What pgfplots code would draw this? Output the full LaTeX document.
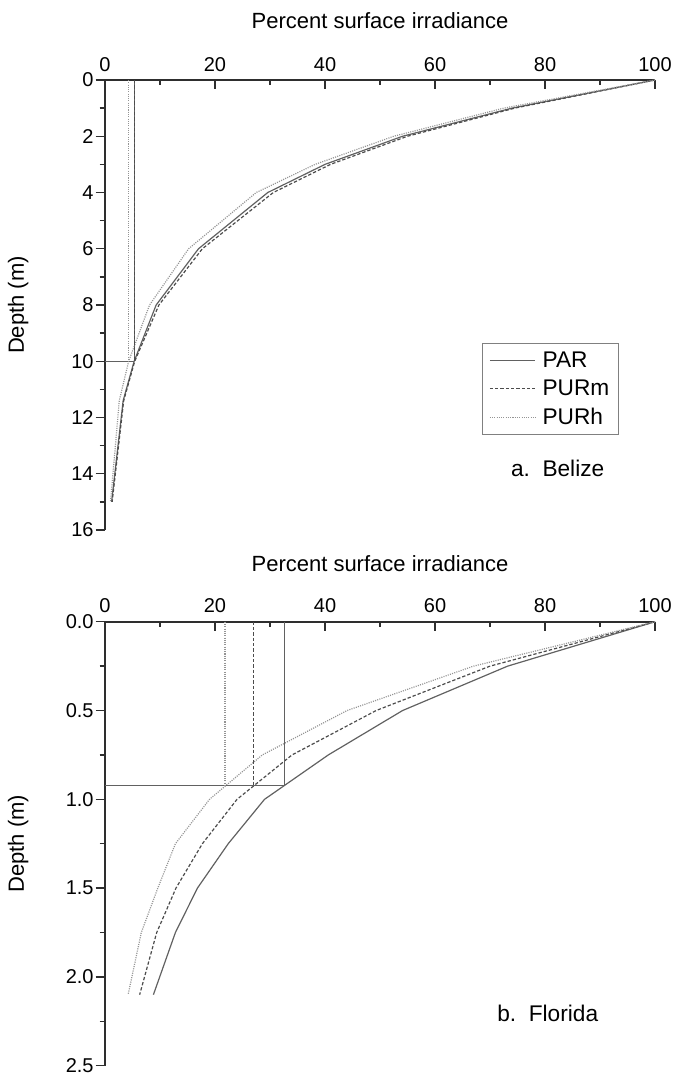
\documentclass[border=0pt]{standalone}
\usepackage{fontspec}
\setmainfont{Liberation Sans}
\usepackage{pgfplots}
\pgfplotsset{compat=1.18}

\definecolor{parcol}{gray}{0.38}
\definecolor{purmcol}{gray}{0.30}
\definecolor{purhcol}{gray}{0.58}
\definecolor{axcol}{gray}{0.18}
\definecolor{refcol}{gray}{0.38}

\pgfplotsset{
  myaxis/.style={
    scale only axis, width=412.5pt,
    xmin=0, xmax=100, y dir=reverse,
    axis x line=top, axis y line=left,
    axis line style={-, line width=1.4pt, axcol},
    xtick={0,20,...,100}, minor x tick num=1, minor y tick num=1,
    xtick align=inside, ytick align=outside,
    major tick length=7pt, minor tick length=4pt,
    tick style={axcol, line width=1.1pt},
    tick label style={font=\fontsize{15}{18}\selectfont},
    /pgf/number format/assume math mode=true,
    xticklabel style={yshift=3pt},
    yticklabel style={xshift=2pt},
    xlabel={Percent surface irradiance},
    ylabel={Depth (m)},
    label style={font=\fontsize{16.5}{20}\selectfont},
    xlabel style={at={(axis description cs:0.5,1.133)}, anchor=center},
    ylabel style={anchor=center},
    clip=false,
  },
  par/.style={parcol, line width=0.9pt},
  purm/.style={purmcol, line width=0.9pt, dash pattern=on 2.5pt off 1.5pt},
  purh/.style={purhcol, line width=0.9pt, dash pattern=on 0.8pt off 0.9pt},
  ref/.style={refcol, line width=0.7pt},
}

\begin{document}
\begin{tikzpicture}
\path[use as bounding box] (0,0) rectangle (507.75pt,-807.75pt);

% ---------- a. Belize ----------
\begin{axis}[myaxis, height=337.5pt,
  at={(78.75pt,-60pt)}, anchor=north west,
  ymin=0, ymax=16, ytick={0,2,...,16},
  ylabel style={at={(axis description cs:-0.158,0.5)}},
  legend style={at={(0.935,0.416)}, anchor=north east, draw=gray, line width=0.9pt,
    font=\fontsize{17}{20}\selectfont, row sep=4pt, inner xsep=5pt, inner ysep=4pt,
    cells={anchor=west},
    /tikz/every odd column/.append style={column sep=3pt}},
  legend image code/.code={\draw[#1] (0cm,0cm) -- (1.2cm,0cm);},
]
\addplot[par] coordinates {(100,0)(74,1)(54.1,2)(40,3)(29.6,4)(17,6)(9.3,8)(5.3,10)(3.3,11.4)(1.2,15)};
\addlegendentry{PAR}
\addplot[purm] coordinates {(100,0)(74.5,1)(55,2)(41,3)(30.6,4)(17.7,6)(9.8,8)(5.4,10)(3.4,11.4)(1.3,15)};
\addlegendentry{PURm}
\addplot[purh] coordinates {(100,0)(72.5,1)(52.5,2)(38.2,3)(27.5,4)(15.2,6)(8.1,8)(4.3,10)(2.6,11.4)(1.0,15)};
\addlegendentry{PURh}
\addplot[ref, forget plot] coordinates {(5.3,0)(5.3,10)};
\addplot[ref, forget plot] coordinates {(0,10)(5.3,10)};
\addplot[purm, forget plot] coordinates {(5.4,0)(5.4,10)};
\addplot[purh, forget plot] coordinates {(4.3,0)(4.3,10)};
\node[font=\fontsize{17}{20}\selectfont] at (axis description cs:0.823,0.138) {a.\ \ Belize};
\end{axis}

% ---------- b. Florida ----------
\begin{axis}[myaxis, height=333pt,
  at={(78.75pt,-466.3pt)}, anchor=north west,
  ymin=0, ymax=2.5, ytick={0,0.5,...,2.5},
  xlabel style={at={(axis description cs:0.5,1.13)}},
  ylabel style={at={(axis description cs:-0.158,0.5)}},
  yticklabel style={/pgf/number format/.cd, fixed, fixed zerofill, precision=1},
]
\addplot[par] coordinates {(100,0)(73.2,0.25)(54.1,0.5)(40.6,0.75)(29,1.0)(22.4,1.25)(16.8,1.5)(12.8,1.75)(8.8,2.1)};
\addplot[purm] coordinates {(100,0)(70,0.25)(49.3,0.5)(34,0.75)(24,1.0)(17.7,1.25)(12.9,1.5)(9.4,1.75)(6.3,2.1)};
\addplot[purh] coordinates {(100,0)(67,0.25)(44,0.5)(28.6,0.75)(19,1.0)(12.8,1.25)(9.6,1.5)(6.6,1.75)(4.2,2.1)};
\addplot[ref] coordinates {(32.6,0)(32.6,0.92)};
\addplot[ref] coordinates {(0,0.92)(32.6,0.92)};
\addplot[purm] coordinates {(27,0)(27,0.92)};
\addplot[purh] coordinates {(21.8,0)(21.8,0.92)};
\node[font=\fontsize{17}{20}\selectfont] at (axis description cs:0.805,0.119) {b.\ \ Florida};
\end{axis}
\end{tikzpicture}
\end{document}
